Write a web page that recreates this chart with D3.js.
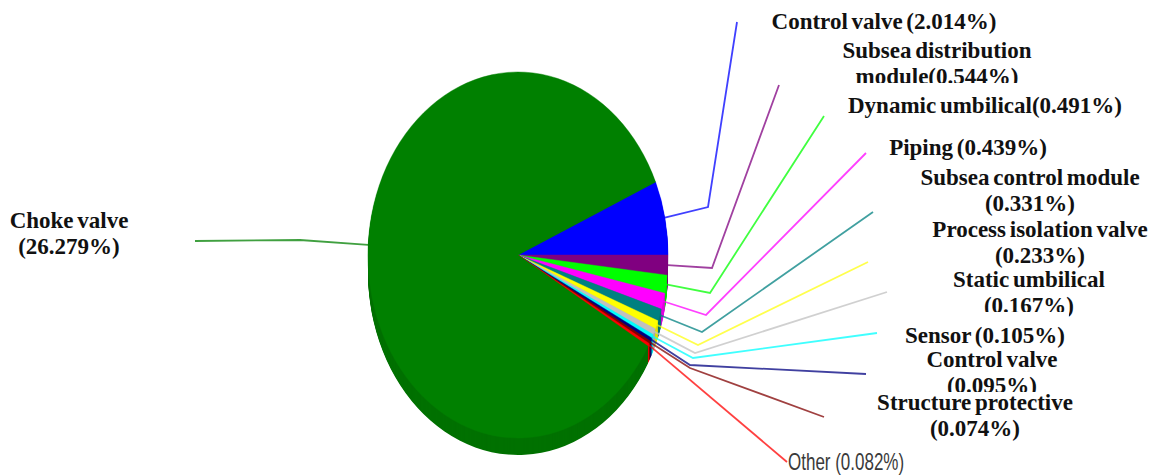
<!DOCTYPE html>
<html>
<head>
<meta charset="utf-8">
<script src="https://cdn.jsdelivr.net/npm/d3@7"></script>
<style>
  html, body { margin: 0; padding: 0; background: #fff; }
  svg { display: block; }
</style>
</head>
<body>
<svg id="chart" width="1161" height="475"></svg>
<script>
// ---- data ----
const categories = ["Control valve", "Subsea distribution module", "Dynamic umbilical", "Piping",
  "Subsea control module", "Process isolation valve", "Static umbilical", "Sensor",
  "Control valve", "Structure protective", "Other", "Choke valve"];
const values = [2.014, 0.544, 0.491, 0.439, 0.331, 0.233, 0.167, 0.105, 0.095, 0.074, 0.082, 26.279];
const labelLines = [
  ["Control valve (2.014%)"],
  ["Subsea distribution", "module(0.544%)"],
  ["Dynamic umbilical(0.491%)"],
  ["Piping (0.439%)"],
  ["Subsea control module", "(0.331%)"],
  ["Process isolation valve", "(0.233%)"],
  ["Static umbilical", "(0.167%)"],
  ["Sensor (0.105%)"],
  ["Control valve", "(0.095%)"],
  ["Structure protective", "(0.074%)"],
  ["Other (0.082%)"],
  ["Choke valve", "(26.279%)"]
];
const colors = ["#0000ff", "#800080", "#00ff00", "#ff00ff", "#008080", "#ffff00",
  "#c0c0c0", "#00ffff", "#000080", "#800000", "#ff0000", "#008000"];

// ---- layout (annotation placement) ----
const labelPos = [[884,29],[937,58],[985,113],[968,155],[1030,185],[1040,237],[1029,287],
  [985,343],[992,367],[975,410],[788,470],[69,228]];
const coverTop = [0,0,30,0,0,0,0,31,0,18,0,0];
const elbows = [[708,207],[712,268],[710,293],[706,315],[702,332],[698,345],[695,353],
  [693,358],[690,365],[690,368],null,[300,240]];
const ends = [[737,22],[779,85],[824,116],[866,153],[873,212],[868,262],[887,292],
  [877,333],[866,374],[824,417],[787,462],[195,241]];

const cx = 518, cy = 255, rx = 150, ry = 183, depth = 17;

const svg = d3.select("#chart");
const total = d3.sum(values);
const start = Math.PI / 2 - 2 * Math.PI * values[0] / total;
const pie = d3.pie().sort(null).value(d => d).startAngle(start).endAngle(start + 2 * Math.PI);
const arcs = pie(values);
const arc = d3.arc().innerRadius(0).outerRadius(rx);

// 3D side: layered copies
const sideG = svg.append("g");
for (let k = depth; k >= 1; k--) {
  sideG.append("g")
    .attr("transform", `translate(${cx},${cy + k}) scale(1,${ry / rx})`)
    .selectAll("path").data(arcs).join("path")
    .attr("d", arc)
    .attr("fill", (d, i) => d3.color(colors[i]).darker(0.35));
}
// top face
svg.append("g")
  .attr("transform", `translate(${cx},${cy}) scale(1,${ry / rx})`)
  .selectAll("path").data(arcs).join("path")
  .attr("d", arc)
  .attr("fill", (d, i) => colors[i])
  .attr("stroke", (d, i) => colors[i])
  .attr("stroke-width", 0.4);

// leader lines
const edgePt = d => {
  const a = (d.startAngle + d.endAngle) / 2;
  return [cx + rx * Math.sin(a), cy - ry * Math.cos(a)];
};
const lineGen = d3.line();
svg.append("g").selectAll("path").data(arcs).join("path")
  .attr("d", (d, i) => {
    const pts = [edgePt(d)];
    if (elbows[i]) pts.push(elbows[i]);
    pts.push(ends[i]);
    return lineGen(pts);
  })
  .attr("fill", "none")
  .attr("stroke", (d, i) => colors[i])
  .attr("stroke-opacity", (d, i) => i === 5 ? 0.7 : 0.75)
  .attr("stroke-width", 1.8);

// labels
const lab = svg.append("g");
labelLines.forEach((lines, i) => {
  const [x, y] = labelPos[i];
  const g = lab.append("g");
  if (i === 10) {
    g.append("text")
      .attr("transform", `translate(${x},${y}) scale(1,1.45)`)
      .attr("font-family", "Liberation Sans, Arial, sans-serif")
      .attr("font-size", 17)
      .attr("fill", "#3a3a3a")
      .text(lines[0]);
    return;
  }
  const t = g.append("text")
    .attr("font-family", "Liberation Serif, Times New Roman, serif")
    .attr("font-weight", "bold")
    .attr("font-size", 23)
    .attr("word-spacing", "-2px")
    .attr("fill", "#111")
    .attr("text-anchor", "middle");
  lines.forEach((ln, j) => {
    t.append("tspan").attr("x", x).attr("y", y + j * 25.5).text(ln);
  });
  if (coverTop[i] > 0) {
    const bb = t.node().getBBox();
    g.insert("rect", "text")
      .attr("x", bb.x - 4).attr("width", bb.width + 8)
      .attr("y", y - coverTop[i])
      .attr("height", bb.y + bb.height - (y - coverTop[i]) + 2)
      .attr("fill", "#fff");
  }
});
</script>
</body>
</html>
